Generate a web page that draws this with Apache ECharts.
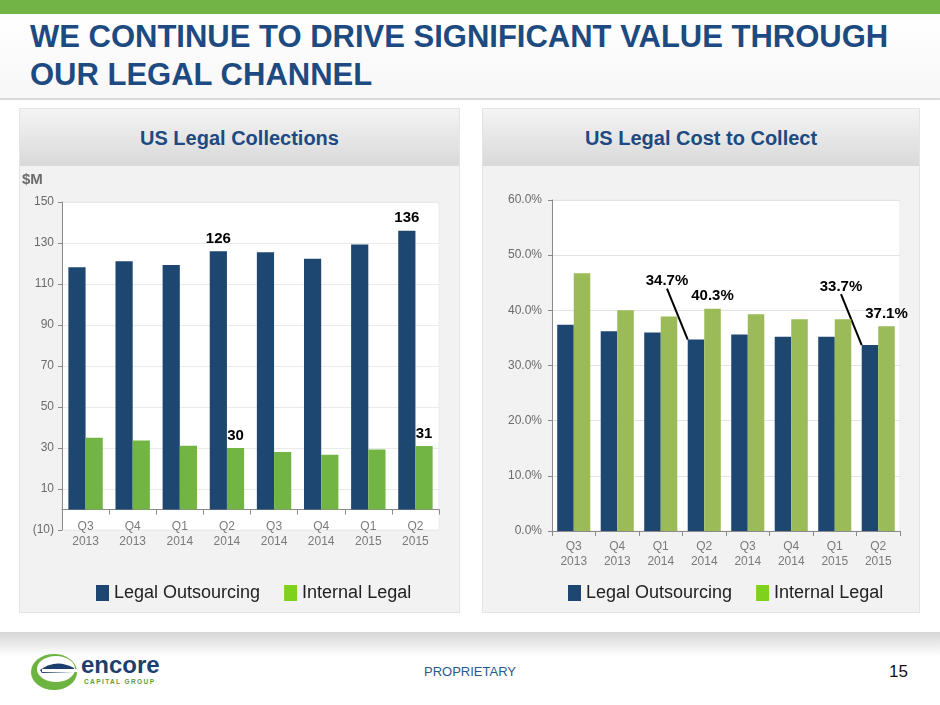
<!DOCTYPE html>
<html><head><meta charset="utf-8">
<script src="https://cdn.jsdelivr.net/npm/echarts@6/dist/echarts.min.js"></script>
<style>
html,body{margin:0;padding:0;width:940px;height:705px;overflow:hidden;background:#fff;font-family:"Liberation Sans",Arial,sans-serif;}
#topband{position:absolute;left:0;top:0;width:940px;height:14px;background:#72b445;}
#titlebg{position:absolute;left:0;top:14px;width:940px;height:84px;background:linear-gradient(#ffffff,#f7f7f7);border-bottom:2px solid #dadada;}
#title{position:absolute;left:30px;top:18px;font-size:31px;font-weight:bold;color:#1d4a80;line-height:38px;letter-spacing:0px;}
.panel{position:absolute;top:108px;height:505px;background:#f2f2f2;border:1px solid #e4e4e4;box-sizing:border-box;}
.phead{position:absolute;left:0;top:0;right:0;height:57px;background:linear-gradient(#f4f4f4,#d9d9d9);text-align:center;line-height:58px;font-size:20px;font-weight:bold;color:#1d4a80;}
#p1{left:19px;width:441px;}
#p2{left:482px;width:438px;}
.chart{position:absolute;top:165px;height:448px;}
#c1{left:19px;width:441px;}
#c2{left:482px;width:438px;}
#shadow{position:absolute;left:0;top:632px;width:940px;height:24px;background:linear-gradient(#d6d6d6,#ffffff);}
#prop{position:absolute;left:424px;top:664px;font-size:13px;color:#2a5a8c;}
#pnum{position:absolute;left:889px;top:662px;font-size:17px;color:#111;}
#logo{position:absolute;left:28px;top:648px;}
</style></head>
<body>
<div id="topband"></div>
<div id="titlebg"></div>
<div id="title">WE CONTINUE TO DRIVE SIGNIFICANT VALUE THROUGH<br>OUR LEGAL CHANNEL</div>
<div class="panel" id="p1"><div class="phead">US Legal Collections</div></div>
<div class="panel" id="p2"><div class="phead">US Legal Cost to Collect</div></div>
<div class="chart" id="c1"></div>
<div class="chart" id="c2"></div>
<div id="shadow"></div>
<svg id="logo" width="140" height="48" viewBox="0 0 140 48">
  <ellipse cx="26" cy="24" rx="23" ry="18" fill="#6db33f"/>
  <ellipse cx="28" cy="21" rx="19" ry="13" fill="#ffffff"/>
  <path d="M12 22 Q28 10 46 20 L46 24 L14 25 Z" fill="#1d3f6e"/>
  <rect x="14" y="21" width="36" height="3" fill="#ffffff"/>
  <text x="53" y="25" font-family="Liberation Sans, Arial" font-size="24" font-weight="bold" fill="#1d3f6e">encore</text>
  <text x="56" y="36" font-family="Liberation Sans, Arial" font-size="6.5" font-weight="bold" fill="#5a9e3a" letter-spacing="1.4">CAPITAL GROUP</text>
</svg>
<div id="prop">PROPRIETARY</div>
<div id="pnum">15</div>
<script>
const categories = ['Q3\n2013','Q4\n2013','Q1\n2014','Q2\n2014','Q3\n2014','Q4\n2014','Q1\n2015','Q2\n2015'];
const seriesNames = ['Legal Outsourcing','Internal Legal'];
const collOutsourcing = [118.2, 121.1, 119.3, 126, 125.5, 122.3, 129.3, 136];
const collInternal = [35.0, 33.7, 31.1, 30, 28.0, 26.7, 29.3, 31];
const costOutsourcing = [37.4, 36.2, 36.0, 34.7, 35.6, 35.2, 35.2, 33.7];
const costInternal = [46.7, 40.0, 38.9, 40.3, 39.3, 38.4, 38.4, 37.1];
const labelledIdx = [3, 7];
const collTicks = {min: -10, max: 150, interval: 20};
const costTicks = {min: 0, max: 60, interval: 10};

const FONT = '"Liberation Sans", Arial, sans-serif';
const BLUE = '#1d4771';
const LEG_GREEN = '#7ed11c';

function withLabels(arr, fmt) {
  return arr.map((v, i) => labelledIdx.includes(i)
    ? {value: v, label: {show: true, position: 'top', distance: 5, formatter: fmt, fontSize: 15, fontWeight: 'bold', color: '#000', fontFamily: FONT}}
    : v);
}

function baseAxisX(margin) {
  return {
    type: 'category', data: categories,
    axisLine: {lineStyle: {color: '#8a8a8a', width: 1}},
    axisTick: {show: true, length: 5, lineStyle: {color: '#8a8a8a'}},
    axisLabel: {color: '#7a7a7a', fontSize: 12, lineHeight: 15, margin: margin, fontFamily: FONT, interval: 0}
  };
}
function baseLegend(left) {
  return {
    left: left, top: 414, itemWidth: 13, itemHeight: 16, itemGap: 24,
    textStyle: {fontSize: 18, color: '#222', fontFamily: FONT},
    data: [
      {name: seriesNames[0], icon: 'rect', itemStyle: {color: BLUE}},
      {name: seriesNames[1], icon: 'rect', itemStyle: {color: LEG_GREEN}}
    ]
  };
}

const c1 = echarts.init(document.getElementById('c1'));
c1.setOption({
  animation: false,
  textStyle: {fontFamily: FONT},
  graphic: [{type: 'text', left: 3, top: 7, style: {text: '$M', fontSize: 15, fontWeight: 'bold', fill: '#6b6b6b', fontFamily: FONT}}],
  legend: baseLegend(72),
  grid: {left: 43, right: 21, top: 37, bottom: 83, show: true, backgroundColor: '#ffffff', borderColor: '#ececec', borderWidth: 1},
  xAxis: baseAxisX(-11),
  yAxis: {
    type: 'value', min: collTicks.min, max: collTicks.max, interval: collTicks.interval,
    axisLine: {show: true, lineStyle: {color: '#8a8a8a'}},
    axisTick: {show: true, length: 4, lineStyle: {color: '#8a8a8a'}},
    splitLine: {lineStyle: {color: '#eaeaea'}},
    axisLabel: {color: '#6b6b6b', fontSize: 12, margin: 8, fontFamily: FONT,
      formatter: v => v < 0 ? '(' + Math.abs(v) + ')' : String(v)}
  },
  series: [
    {name: seriesNames[0], type: 'bar', barGap: '0%', barCategoryGap: '27%', itemStyle: {color: BLUE},
     data: withLabels(collOutsourcing, p => Math.round(p.value))},
    {name: seriesNames[1], type: 'bar', itemStyle: {color: '#72b544'},
     data: withLabels(collInternal, p => Math.round(p.value))}
  ]
});

const c2 = echarts.init(document.getElementById('c2'));
c2.setOption({
  animation: false,
  textStyle: {fontFamily: FONT},
  legend: baseLegend(81),
  grid: {left: 70, right: 20, top: 35, bottom: 82, show: true, backgroundColor: '#ffffff', borderColor: '#ececec', borderWidth: 1},
  xAxis: baseAxisX(8),
  yAxis: {
    type: 'value', min: costTicks.min, max: costTicks.max, interval: costTicks.interval,
    axisLine: {show: true, lineStyle: {color: '#8a8a8a'}},
    axisTick: {show: true, length: 4, lineStyle: {color: '#8a8a8a'}},
    splitLine: {lineStyle: {color: '#e3e3e3'}},
    axisLabel: {color: '#6b6b6b', fontSize: 12, margin: 10, fontFamily: FONT,
      formatter: v => v.toFixed(1) + '%'}
  },
  series: [
    {name: seriesNames[0], type: 'bar', barGap: '0%', barCategoryGap: '24%', itemStyle: {color: BLUE},
     data: withLabels(costOutsourcing, p => p.value.toFixed(1) + '%'),
     labelLine: {show: true, lineStyle: {color: '#000', width: 2}},
     labelLayout: function (params) {
       if (labelledIdx.includes(params.dataIndex)) return {dx: -29, dy: -46};
       return {};
     }},
    {name: seriesNames[1], type: 'bar', itemStyle: {color: '#9bbb59'},
     data: withLabels(costInternal, p => p.value.toFixed(1) + '%')}
  ]
});
</script>
</body></html>
